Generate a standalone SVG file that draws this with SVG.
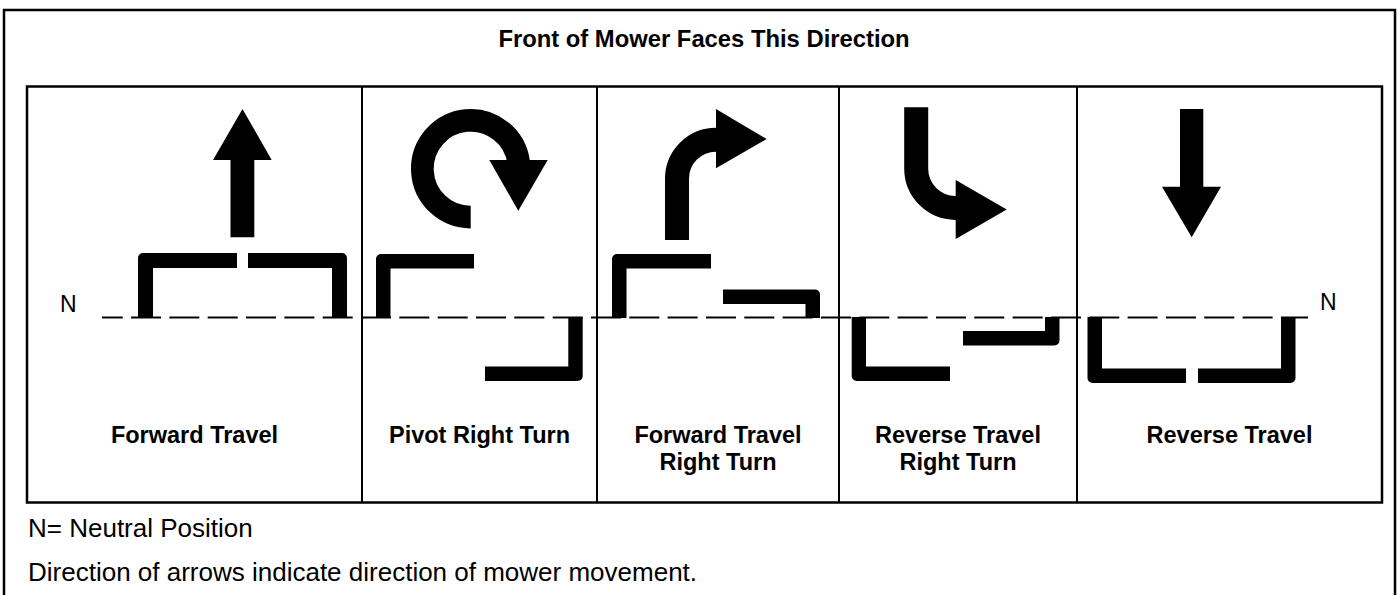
<svg xmlns="http://www.w3.org/2000/svg" width="1399" height="595" viewBox="0 0 1399 595">
<style>
  .frame { fill: none; stroke: #000; stroke-width: 2.5; }
  .div { stroke: #000; stroke-width: 2; }
  .neutral { stroke: #000; stroke-width: 2; stroke-dasharray: 30 8.33; stroke-dashoffset: 9.3; fill: none; }
  .lever { fill: #000; }
  .arrow { fill: #000; }
  .band { fill: none; stroke: #000; stroke-width: 24; stroke-linecap: butt; }
  .bold { font-family: "Liberation Sans", Arial, sans-serif; font-weight: bold; font-size: 23.5px; fill: #000; text-anchor: middle; }
  .title { font-size: 23.8px; }
  .reg { font-family: "Liberation Sans", Arial, sans-serif; font-size: 26px; fill: #000; }
  .n { font-family: "Liberation Sans", Arial, sans-serif; font-size: 23px; fill: #000; }
</style>
<rect width="1399" height="595" fill="#fff"/>
<rect class="frame" x="4" y="10" width="1391" height="600"/>
<text class="bold title" x="704" y="47">Front of Mower Faces This Direction</text>
<rect class="frame" x="27" y="86.5" width="1355" height="416"/>
<g id="dividers">
  <line class="div" x1="362" y1="86.5" x2="362" y2="502.5"/>
  <line class="div" x1="597" y1="86.5" x2="597" y2="502.5"/>
  <line class="div" x1="839" y1="86.5" x2="839" y2="502.5"/>
  <line class="div" x1="1077" y1="86.5" x2="1077" y2="502.5"/>
</g>
<g id="connectors">
  <line class="neutral" x1="102" y1="317.5" x2="1308" y2="317.5"/>
</g>
<text class="n" x="60" y="312">N</text>
<text class="n" x="1320" y="310">N</text>
<g id="panel-forward">
  <polygon class="arrow" points="242.5,109 271.7,160 254.3,160 254.3,237.3 230.5,237.3 230.5,160 213,160"/>
  <path class="lever" d="M138,318 V258 A5,5 0 0 1 143,253 H237 V268 H153 V318 Z"/>
  <path class="lever" d="M248,253 H342 A5,5 0 0 1 347,258 V318 H332 V268 H248 Z"/>
  <text class="bold" x="194.5" y="443">Forward Travel</text>
</g>
<g id="panel-pivot">
  <path class="band" style="stroke-width:22.7" d="M470.7,217.05 A48.35,48.35 0 1 1 518.6,162"/>
  <polygon class="arrow" points="489.3,160 547.7,160 518.3,210.7"/>
  <path class="lever" d="M376,318 V259 A5,5 0 0 1 381,254 H474 V268.5 H390.5 V318 Z"/>
  <path class="lever" d="M568.3,317 H582.7 V376 A5,5 0 0 1 577.7,381 H485 V366.5 H568.3 Z"/>
  <text class="bold" x="479.5" y="443">Pivot Right Turn</text>
</g>
<g id="panel-forward-right">
  <path class="band" d="M677,240 V178.7 A39,39 0 0 1 716,139.7 H719"/>
  <polygon class="arrow" points="716,109 766.7,139 716,168.3"/>
  <path class="lever" d="M612,318 V259 A5,5 0 0 1 617,254 H711 V268.5 H626.5 V318 Z"/>
  <path class="lever" d="M723,289.5 H815 A5,5 0 0 1 820,294.5 V318 H805.5 V304 H723 Z"/>
  <text class="bold" x="718" y="443">Forward Travel</text>
  <text class="bold" x="718" y="470">Right Turn</text>
</g>
<g id="panel-reverse-right">
  <path class="band" d="M916.2,107.3 V168.6 A39.3,39.3 0 0 0 955.5,207.9 H958.5"/>
  <polygon class="arrow" points="955.7,180 1006.7,209.5 955.7,239"/>
  <path class="lever" d="M851.7,317 H866 V366.5 H950 V381 H856.7 A5,5 0 0 1 851.7,376 Z"/>
  <path class="lever" d="M1045,317 H1059.5 V340.5 A5,5 0 0 1 1054.5,345.5 H963 V331 H1045 Z"/>
  <text class="bold" x="958" y="443">Reverse Travel</text>
  <text class="bold" x="958" y="470">Right Turn</text>
</g>
<g id="panel-reverse">
  <polygon class="arrow" points="1180,109 1203.3,109 1203.3,186.7 1221,186.7 1191.7,237.3 1162,186.7 1180,186.7"/>
  <path class="lever" d="M1087.5,317 H1102 V368.5 H1186 V383 H1092.5 A5,5 0 0 1 1087.5,378 Z"/>
  <path class="lever" d="M1281,317 H1295.5 V378 A5,5 0 0 1 1290.5,383 H1198 V368.5 H1281 Z"/>
  <text class="bold" x="1229.5" y="443">Reverse Travel</text>
</g>
<text class="reg" x="28" y="537">N= Neutral Position</text>
<text class="reg" x="28" y="581">Direction of arrows indicate direction of mower movement.</text>
</svg>
